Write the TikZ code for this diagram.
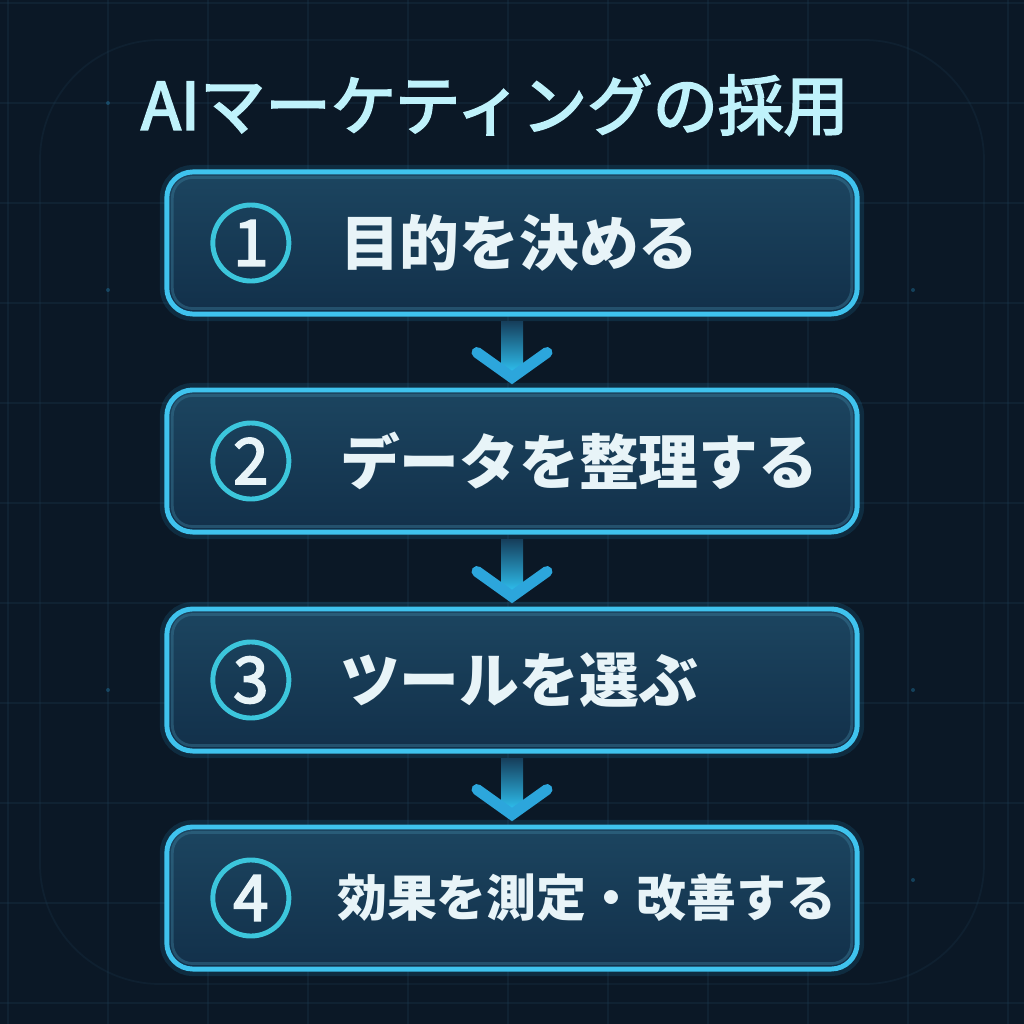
\documentclass[tikz,border=0pt]{standalone}
\usepackage{fontspec}
\setmainfont{Noto Sans CJK JP}
\newfontfamily\medfont{Noto Sans CJK JP}[FakeBold=3]
\usetikzlibrary{positioning,calc}
\definecolor{bgc}{HTML}{0B1826}
\definecolor{gridc}{HTML}{1C3A50}
\definecolor{titlec}{HTML}{BFF2FB}
\definecolor{boxtop}{HTML}{1C4560}
\definecolor{boxbot}{HTML}{12304A}
\definecolor{boxline}{HTML}{3FC3EE}
\definecolor{glowc}{HTML}{2AA0D8}
\definecolor{insetc}{HTML}{3A7A98}
\definecolor{ringc}{HTML}{3CC6DC}
\definecolor{textc}{HTML}{E8F4F8}
\definecolor{shafttop}{HTML}{163F5C}
\definecolor{shaftbot}{HTML}{2EC2F2}
\definecolor{chevc}{HTML}{2CA6DC}
\begin{document}
\begin{tikzpicture}[x=0.01cm, y=-0.01cm,
box/.style={draw=boxline, line width=1.4pt, rounded corners=0.26cm,
  minimum width=6.9cm, minimum height=1.42cm, inner sep=0pt,
  top color=boxtop, bottom color=boxbot,
  preaction={draw=glowc, line width=4pt, opacity=0.15}},
inset/.style={draw=insetc, line width=0.8pt, opacity=0.45, rounded corners=0.2cm},
num/.style={circle, draw=ringc, line width=1.4pt, minimum size=0.76cm,
  inner sep=0pt, text=textc, font=\medfont\fontsize{18}{18}\selectfont},
steptext/.style={text=textc, inner sep=0pt, anchor=west,
  font=\bfseries\fontsize{17}{17}\selectfont},
chev/.style={draw=chevc, line width=0.11cm, line cap=round},
%grid/.style={draw=gridc, line width=0.3pt},
]
\useasboundingbox (0,0) rectangle (1024,1024);
\fill[bgc] (0,0) rectangle (1024,1024);
% background grid
\foreach \g in {8,108,...,1008}
  \draw[gridc, line width=0.3pt, opacity=0.3] (\g,0) -- (\g,1024);
\foreach \g in {3,103,...,1003}
  \draw[gridc, line width=0.3pt, opacity=0.3] (0,\g) -- (1024,\g);
\draw[gridc, line width=0.5pt, opacity=0.25, rounded corners=1.2cm] (40,40) rectangle (984,984);
\foreach \sx/\sy in {108/103, 108/290, 913/290, 108/690, 913/690, 913/880}
  \fill[glowc, opacity=0.3] (\sx,\sy) circle (0.02cm);

% title
\node (title) [text=titlec, inner sep=0pt, font=\medfont\fontsize{18.6}{18.6}\selectfont]
  at (495,105) {AIマーケティングの採用};

% steps
\node (b1) [box] at (512,243) {};
\node (b2) [box] at (512,461) {};
\node (b3) [box] at (512,680) {};
\node (b4) [box] at (512,898) {};
\foreach \b in {b1,b2,b3,b4}
  \draw[inset] ($(\b.north west)+(8,8)$) rectangle ($(\b.south east)+(-8,-8)$);

\node (n1) [num, right=0.46cm of b1.west] {1};
\node (n2) [num, right=0.46cm of b2.west] {2};
\node (n3) [num, right=0.46cm of b3.west] {3};
\node (n4) [num, right=0.46cm of b4.west] {4};

\node (t1) [steptext, right=0.48cm of n1] {目的を決める};
\node (t2) [steptext, right=0.48cm of n2] {データを整理する};
\node (t3) [steptext, right=0.48cm of n3] {ツールを選ぶ};
\node (t4) [steptext, right=0.45cm of n4, font=\bfseries\fontsize{14.2}{14.2}\selectfont] {効果を測定・改善する};

% arrows
\foreach \a/\b in {b1/b2, b2/b3, b3/b4} {
  \shade[top color=shafttop, bottom color=shaftbot]
    ($(\a.south)+(-11,5)$) rectangle ($(\b.north)+(11,-14)$);
  \draw[chev] ($(\b.north)+(-35,-35)$) -- ($(\b.north)+(0,-10)$) -- ($(\b.north)+(35,-35)$);
}
\end{tikzpicture}
\end{document}
